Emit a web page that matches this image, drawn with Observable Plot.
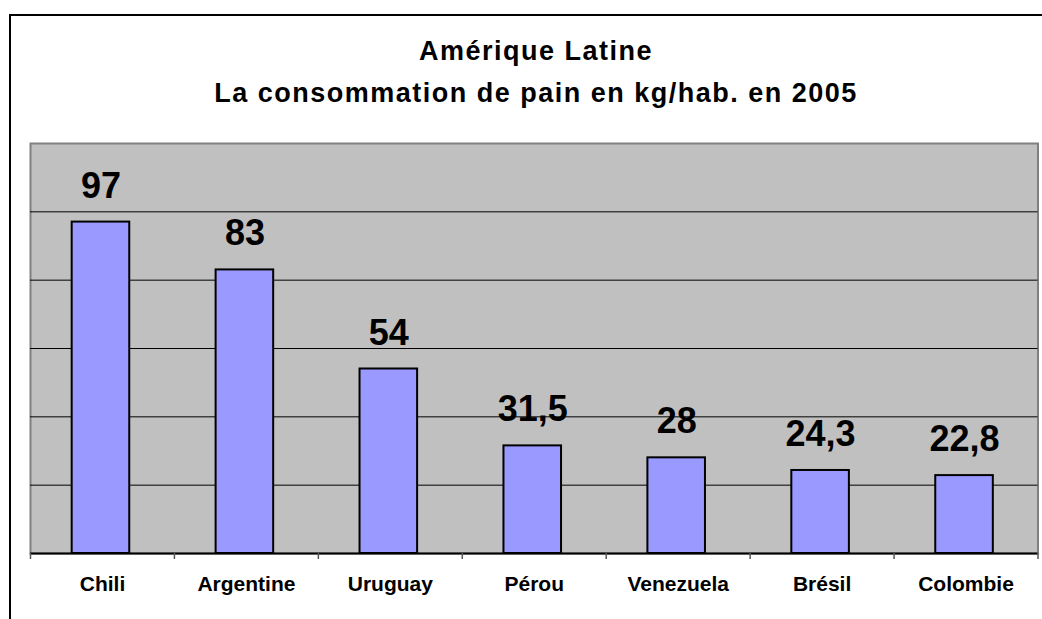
<!DOCTYPE html>
<html>
<head>
<meta charset="utf-8">
<script src="https://cdn.jsdelivr.net/npm/d3@7"></script>
<script src="https://cdn.jsdelivr.net/npm/@observablehq/plot@0.6"></script>
<style>
  html, body { margin: 0; padding: 0; background: #fff; overflow: hidden; width: 1042px; height: 619px; }
  #wrap { position: relative; width: 1042px; height: 619px; overflow: hidden; font-family: "Liberation Sans", Arial, sans-serif; }
  #border { position: absolute; left: 9px; top: 14px; width: 2000px; height: 2000px; border: 2px solid #000; }
  .title { position: absolute; left: 30px; width: 1012px; text-align: center; font-weight: bold; font-size: 27px; line-height: 27px; letter-spacing: 1.5px; color: #000; white-space: nowrap; }
  #chart { position: absolute; left: 0; top: 0; }
</style>
</head>
<body>
<div id="wrap">
  <div id="border"></div>
  <div class="title" id="t1" style="top:37.5px"></div>
  <div class="title" id="t2" style="top:79.5px"></div>
  <div id="chart"></div>
</div>
<script>
const titleLines = ["Amérique Latine", "La consommation de pain en kg/hab. en 2005"];
const categories = ["Chili", "Argentine", "Uruguay", "Pérou", "Venezuela", "Brésil", "Colombie"];
const values = [97, 83, 54, 31.5, 28, 24.3, 22.8];
const gridValues = [20, 40, 60, 80, 100];
const yDomain = [0, 120];

document.getElementById("t1").textContent = titleLines[0];
document.getElementById("t2").textContent = titleLines[1];

const data = categories.map((c, i) => ({country: c, value: values[i]}));
const fmt = v => String(v).replace(".", ",");

const W = 1042, H = 619, mL = 30, mR = 4.5, mT = 143, mB = 66;
const step = (W - mL - mR) / categories.length;

const chart = Plot.plot({
  width: W,
  height: H,
  marginLeft: mL,
  marginRight: mR,
  marginTop: mT,
  marginBottom: mB,
  style: {background: "none", fontFamily: "'Liberation Sans', Arial, sans-serif", color: "#000", overflow: "visible"},
  x: {domain: categories, paddingInner: 0.6, paddingOuter: 0.3, round: false, label: null},
  y: {domain: yDomain, axis: null},
  marks: [
    Plot.frame({fill: "#C0C0C0", stroke: "#808080", strokeWidth: 2}),
    Plot.ruleY(gridValues, {stroke: "#000", strokeWidth: 1}),
    Plot.barY(data, {x: "country", y: "value", fill: "#9999FF", stroke: "#000", strokeWidth: 2, dx: -1.5}),
    Plot.ruleY([0], {stroke: "#000", strokeWidth: 2}),
    Plot.ruleX(categories, {x: d => d, y1: 0, insetBottom: -6, dx: -step / 2, stroke: "#555", strokeWidth: 1.5}),
    Plot.ruleX(categories.slice(-1), {x: d => d, y1: 0, insetBottom: -6, dx: step / 2, stroke: "#555", strokeWidth: 1.5}),
    Plot.text(data, {x: "country", y: "value", text: d => fmt(d.value), dy: -36, dx: -1.5, fontSize: 36, fontWeight: "bold", fill: "#000"}),
    Plot.axisX({tickSize: 0, tickPadding: 23, fontSize: 21, fontWeight: "bold", fill: "#000", letterSpacing: 0.6, label: null})
  ]
});
document.getElementById("chart").appendChild(chart);
</script>
</body>
</html>
